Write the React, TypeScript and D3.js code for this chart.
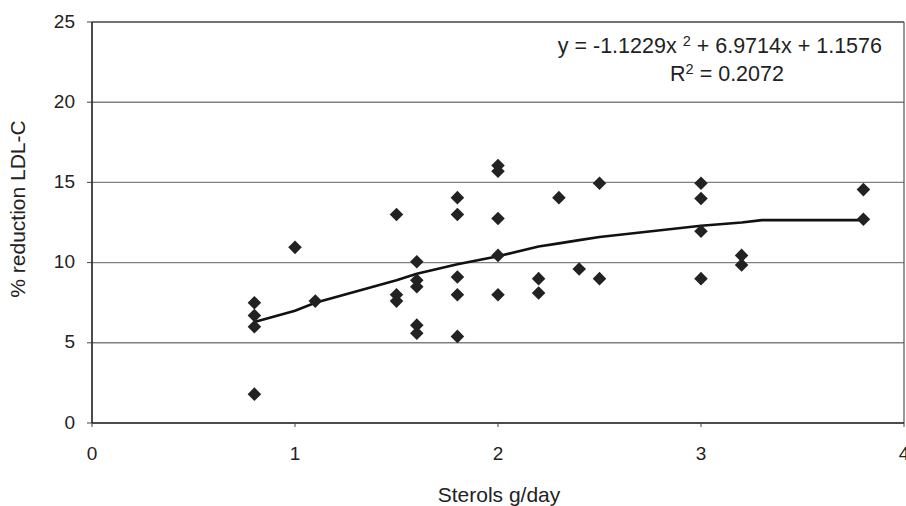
import React from "react";
import * as d3 from "d3";

const pointX = [0.8, 0.8, 0.8, 0.8, 1.0, 1.1, 1.5, 1.5, 1.5, 1.6, 1.6, 1.6, 1.6, 1.6, 1.8, 1.8, 1.8, 1.8, 1.8, 2.0, 2.0, 2.0, 2.0, 2.0, 2.2, 2.2, 2.3, 2.4, 2.5, 2.5, 3.0, 3.0, 3.0, 3.0, 3.2, 3.2, 3.8, 3.8];
const pointY = [7.5, 6.7, 6.0, 1.8, 10.95, 7.6, 13.0, 8.0, 7.6, 10.05, 8.9, 8.5, 6.1, 5.6, 14.05, 13.0, 9.1, 8.0, 5.4, 16.05, 15.7, 12.75, 10.45, 8.0, 9.0, 8.1, 14.05, 9.6, 14.95, 9.0, 14.95, 14.0, 11.95, 9.0, 10.45, 9.85, 14.55, 12.7];

const curveX = [0.8, 1.0, 1.1, 1.5, 1.6, 1.8, 2.0, 2.2, 2.3, 2.4, 2.5, 3.0, 3.2, 3.3, 3.8];
const curveY = [6.3, 7.0, 7.5, 8.9, 9.3, 9.9, 10.4, 11.0, 11.2, 11.4, 11.6, 12.3, 12.5, 12.65, 12.65];

const xTicks = [0, 1, 2, 3, 4];
const yTicks = [0, 5, 10, 15, 20, 25];

const W = 906, H = 506;
const left = 92, right = 904, top = 22, bottom = 423;

export default function App() {
  const x = d3.scaleLinear().domain([0, 4]).range([left, right]);
  const y = d3.scaleLinear().domain([0, 25]).range([bottom, top]);
  const line = d3.line<number>().x((_, i) => x(curveX[i])).y((d) => y(d)).curve(d3.curveLinear);
  const sym = d3.symbol().type(d3.symbolSquare).size(92)();
  const font = "Liberation Sans, Arial, sans-serif";
  return (
    <svg width={W} height={H} style={{ position: "absolute", left: 0, top: 0, background: "#fff" }} fontFamily={font}>
      <rect x={0} y={0} width={W} height={H} fill="#fff" />
      {yTicks.filter((t) => t > 0 && t < 25).map((t) => (
        <line key={t} x1={left} x2={right} y1={y(t)} y2={y(t)} stroke="#808080" strokeWidth={1.4} />
      ))}
      <line x1={left} x2={right} y1={y(25)} y2={y(25)} stroke="#444" strokeWidth={1.4} />
      <line x1={right} x2={right} y1={top} y2={bottom} stroke="#555" strokeWidth={1.2} />
      <line x1={left} x2={left} y1={top} y2={bottom} stroke="#111" strokeWidth={1.5} />
      <line x1={left} x2={right} y1={bottom} y2={bottom} stroke="#111" strokeWidth={1.6} />
      {yTicks.map((t) => (
        <g key={t}>
          <line x1={left - 5} x2={left} y1={y(t)} y2={y(t)} stroke="#444" />
          <text x={75} y={y(t) - 1} dy="0.35em" textAnchor="end" fontSize={19} fill="#222">{t}</text>
        </g>
      ))}
      {xTicks.map((t) => (
        <g key={t}>
          <line x1={x(t)} x2={x(t)} y1={bottom} y2={bottom + 4} stroke="#444" />
          <text x={x(t)} y={460} textAnchor="middle" fontSize={19} fill="#222">{t}</text>
        </g>
      ))}
      <text x={499} y={502} textAnchor="middle" fontSize={21} fill="#222">Sterols g/day</text>
      <text transform={`translate(25,209) rotate(-90)`} textAnchor="middle" fontSize={21} fill="#222">% reduction LDL-C</text>
      <path d={line(curveY) || ""} fill="none" stroke="#111" strokeWidth={2.6} />
      {pointX.map((px, i) => (
        <path key={i} d={sym || ""} transform={`translate(${x(px)},${y(pointY[i])}) rotate(45)`} fill="#222" />
      ))}
      <text x={882} y={53} textAnchor="end" fontSize={21.5} fill="#222">
        y = -1.1229x <tspan dy={-7} fontSize={14.5}>2</tspan><tspan dy={7}> + 6.9714x + 1.1576</tspan>
      </text>
      <text x={727} y={81} textAnchor="middle" fontSize={21.5} fill="#222">
        R<tspan dy={-7} fontSize={14.5}>2</tspan><tspan dy={7}> = 0.2072</tspan>
      </text>
    </svg>
  );
}
